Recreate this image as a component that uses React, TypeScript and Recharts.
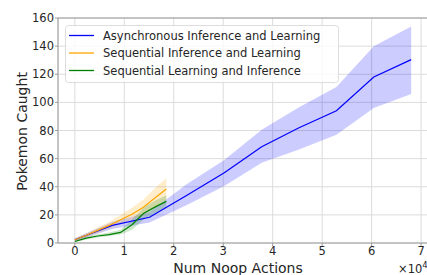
import React from 'react';
import {
  ComposedChart, Line, Area, XAxis, YAxis, CartesianGrid, ReferenceLine,
} from 'recharts';

// x positions are in noop actions
const asyncSteps = [0, 7560, 15110, 22670, 30220, 37780, 45330, 52890, 60440, 68000];
const asyncMean = [2.3, 12.5, 18.3, 34, 50, 68.5, 82, 94, 118, 130.4];
const asyncLow = [1.2, 10, 14.5, 27, 40.5, 57, 66.5, 77, 96, 106];
const asyncHigh = [3.4, 15, 22, 42, 59, 80.5, 96.5, 111, 140, 154];

const seqSteps = [0, 2310, 4620, 6940, 9250, 11560, 13870, 16180, 18500];
const infLearnMean = [2.3, 5.5, 9, 12.5, 16.5, 20.5, 25.5, 32, 38.4];
const infLearnLow = [1.5, 4, 7, 10, 13.5, 16.5, 20, 25, 31];
const infLearnHigh = [3, 7, 11, 15, 20, 25, 31, 39, 46];

const learnInfMean = [1.1, 3.5, 5, 6, 7.5, 13, 21, 25.5, 29.6];
const learnInfLow = [0.5, 2.5, 4, 5, 6, 9.5, 16.5, 21, 25];
const learnInfHigh = [1.7, 4.5, 6, 7.5, 9.5, 16.5, 25, 30, 34];

const xTicks = [0, 10000, 20000, 30000, 40000, 50000, 60000, 70000];
const yTicks = [0, 20, 40, 60, 80, 100, 120, 140, 160];

const seriesNames = [
  'Asynchronous Inference and Learning',
  'Sequential Inference and Learning',
  'Sequential Learning and Inference',
];
const seriesColors = ['#0000ff', '#ffa500', '#008000'];

const build = (xs: number[], mean: number[], lo: number[], hi: number[]) =>
  xs.map((x, i) => ({ x, mean: mean[i], band: [lo[i], hi[i]] }));

const asyncData = build(asyncSteps, asyncMean, asyncLow, asyncHigh);
const infLearnData = build(seqSteps, infLearnMean, infLearnLow, infLearnHigh);
const learnInfData = build(seqSteps, learnInfMean, learnInfLow, learnInfHigh);

const FONT = '"DejaVu Sans", sans-serif';
const TEXT = '#262626';
const SPINE = '#9a9a9a';

const LegendBox = () => (
  <svg width={274} height={58} style={{ position: 'absolute', left: 65, top: 25, pointerEvents: 'none' }}>
    <rect x={0.5} y={0.5} width={273} height={57} rx={3} fill="#ffffff" fillOpacity={0.8} stroke="#dddddd" />
    {seriesNames.map((name, i) => (
      <g key={name}>
        <line x1={4} x2={29} y1={10.5 + i * 17.5} y2={10.5 + i * 17.5} stroke={seriesColors[i]} strokeWidth={1.3} />
        <text x={38} y={14.5 + i * 17.5} fontFamily={FONT} fontSize={11.5} fill={TEXT}>{name}</text>
      </g>
    ))}
  </svg>
);

const App: React.FC = () => (
  <div style={{ position: 'absolute', left: 0, top: 0, width: 427, height: 275, overflow: 'hidden', background: '#fff' }}>
    <ComposedChart width={428} height={275} margin={{ top: 18, right: 0, bottom: 0, left: 0 }}>
      <CartesianGrid stroke="#dcdcdc" strokeWidth={1} vertical horizontal />
      <XAxis
        type="number" dataKey="x" domain={[-3400, 71400]} ticks={xTicks} allowDataOverflow
        tickFormatter={(v: number) => String(v / 10000)}
        height={32} tickSize={3} tickMargin={1}
        axisLine={{ stroke: SPINE }} tickLine={{ stroke: SPINE }}
        tick={{ fill: TEXT, fontSize: 11.5, fontFamily: FONT }}
      />
      <YAxis
        type="number" domain={[0, 160]} ticks={yTicks} allowDataOverflow
        width={58} tickSize={3} tickMargin={1}
        axisLine={{ stroke: SPINE }} tickLine={{ stroke: SPINE }}
        tick={{ fill: TEXT, fontSize: 11.5, fontFamily: FONT }}
      />
      <ReferenceLine y={160} stroke={SPINE} />
      <Area data={asyncData} dataKey="band" type="linear" stroke="none" fill={seriesColors[0]} fillOpacity={0.2} isAnimationActive={false} legendType="none" />
      <Line data={asyncData} dataKey="mean" type="linear" stroke={seriesColors[0]} strokeWidth={1.2} dot={false} isAnimationActive={false} />
      <Area data={infLearnData} dataKey="band" type="linear" stroke="none" fill={seriesColors[1]} fillOpacity={0.2} isAnimationActive={false} legendType="none" />
      <Line data={infLearnData} dataKey="mean" type="linear" stroke={seriesColors[1]} strokeWidth={1.2} dot={false} isAnimationActive={false} />
      <Area data={learnInfData} dataKey="band" type="linear" stroke="none" fill={seriesColors[2]} fillOpacity={0.2} isAnimationActive={false} legendType="none" />
      <Line data={learnInfData} dataKey="mean" type="linear" stroke={seriesColors[2]} strokeWidth={1.2} dot={false} isAnimationActive={false} />
    </ComposedChart>
    <LegendBox />
    <svg width={427} height={275} style={{ position: 'absolute', left: 0, top: 0, pointerEvents: 'none' }}>
      <text x={238} y={272.5} textAnchor="middle" fontFamily={FONT} fontSize={14} fill={TEXT}>Num Noop Actions</text>
      <text transform="translate(26.5,131.5) rotate(-90)" textAnchor="middle" fontFamily={FONT} fontSize={14} fill={TEXT}>Pokemon Caught</text>
      <text x={398} y={272.5} fontFamily={FONT} fontSize={11.5} fill={TEXT}>
        ×10<tspan dy={-5} fontSize={8.5}>4</tspan>
      </text>
    </svg>
  </div>
);

export default App;
